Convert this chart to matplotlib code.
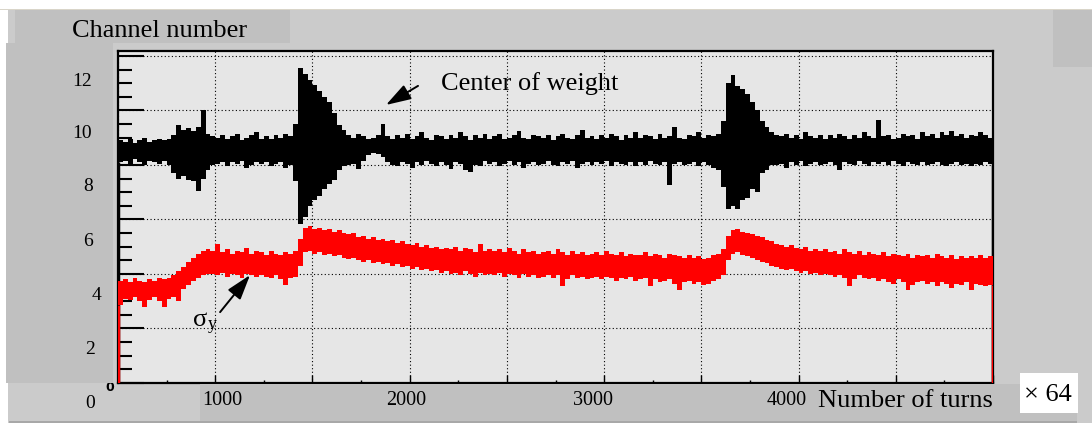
import numpy as np
import matplotlib
matplotlib.use('Agg')
import matplotlib.pyplot as plt
from matplotlib.patches import Rectangle
from matplotlib.ticker import MultipleLocator

plt.rcParams['font.family'] = ['Liberation Serif', 'DejaVu Serif']

# Histogram binning: 180 bins of 25 (units of 64 turns)
bin_width = 25
n_bins = 180
edges = np.arange(n_bins + 1) * bin_width

# Center of weight, max / min per bin (channel number)
cw_hi = [
    8.9, 8.85, 8.95, 8.8, 8.9, 9.0, 8.85, 8.9, 8.95, 8.9,
    8.95, 9.1, 9.45, 9.3, 9.35, 9.25, 9.4, 10.0, 9.15, 9.05,
    9.0, 9.1, 8.95, 9.05, 9.15, 8.9, 9.0, 9.1, 9.2, 8.95,
    9.05, 8.95, 9.1, 9.0, 9.15, 9.05, 9.5, 11.55, 11.35, 11.1,
    10.95, 10.7, 10.5, 10.3, 9.9, 9.45, 9.3, 9.1, 9.0, 9.15,
    9.05, 8.95, 9.0, 9.1, 9.5, 9.05, 8.95, 9.1, 9.0, 9.15,
    8.95, 9.05, 9.2, 9.0, 8.9, 9.1, 9.05, 8.95, 9.1, 9.0,
    9.2, 9.05, 8.9, 9.1, 9.0, 9.15, 8.95, 9.05, 9.15, 8.95,
    9.0, 9.1, 9.25, 9.0, 8.95, 9.1, 9.05, 9.0, 9.1, 8.9,
    9.05, 9.15, 9.0, 8.95, 9.1, 9.3, 9.0, 9.05, 8.95, 9.1,
    9.0, 9.15, 9.05, 8.9, 9.1, 9.0, 9.2, 9.0, 9.1, 9.05,
    8.95, 9.15, 9.0, 9.05, 9.4, 9.0, 8.95, 9.1, 9.05, 9.2,
    9.0, 9.1, 9.05, 9.15, 9.6, 11.0, 11.3, 10.9, 10.8, 10.6,
    10.3, 10.0, 9.6, 9.4, 9.2, 9.1, 9.05, 9.15, 9.0, 9.1,
    8.95, 9.2, 9.05, 9.0, 9.1, 8.95, 9.1, 9.0, 9.15, 9.05,
    8.95, 9.1, 9.0, 9.2, 9.05, 9.0, 9.65, 9.05, 9.1, 8.95,
    9.0, 9.15, 9.05, 9.1, 8.95, 9.2, 9.05, 9.15, 9.0, 9.2,
    9.1, 9.25, 9.05, 9.15, 9.0, 9.1, 9.05, 9.2, 9.1, 9.0,
]
cw_lo = [
    8.1, 8.15, 8.05, 8.2, 8.1, 8.0, 8.15, 8.1, 8.05, 8.15,
    8.0, 7.7, 7.5, 7.6, 7.45, 7.4, 7.05, 7.5, 7.8, 8.0,
    8.05, 8.1, 7.95, 8.1, 8.05, 8.15, 7.9, 8.0, 8.1, 8.05,
    8.1, 7.95, 8.05, 8.1, 7.9, 8.0, 7.4, 5.85, 6.1, 6.5,
    6.7, 6.85, 7.1, 7.3, 7.45, 7.8, 7.95, 8.0, 8.05, 7.85,
    8.15, 8.35, 8.45, 8.4, 8.3, 8.1, 8.0, 7.95, 8.1, 8.05,
    7.9, 8.1, 8.0, 8.15, 8.05, 7.95, 8.1, 8.0, 7.85, 8.1,
    8.05, 7.8, 7.75, 8.0, 7.95, 8.15, 8.05, 8.1, 7.95, 8.05,
    8.15, 8.0, 8.1, 7.9, 8.05, 8.1, 8.0, 8.05, 8.15, 8.0,
    7.95, 8.1, 8.05, 8.15, 7.9, 8.05, 8.1, 8.0, 8.1, 8.05,
    8.15, 7.95, 8.1, 8.05, 8.0, 8.1, 7.95, 8.1, 8.0, 8.15,
    8.05, 8.0, 8.1, 7.25, 8.05, 8.1, 8.0, 8.05, 8.1, 7.95,
    8.1, 8.0, 7.9, 7.8, 7.2, 6.4, 6.5, 6.4, 6.7, 6.8,
    7.1, 7.0, 7.7, 7.8, 8.0, 8.0, 8.05, 7.9, 8.1, 8.0,
    8.15, 7.95, 8.05, 8.1, 8.0, 8.05, 8.1, 8.0, 7.8, 8.1,
    8.05, 8.0, 8.15, 8.05, 7.95, 8.1, 8.05, 8.1, 8.0, 8.15,
    8.05, 7.95, 8.1, 8.05, 8.0, 8.1, 8.0, 8.05, 8.1, 8.0,
    7.95, 8.05, 8.1, 8.0, 8.05, 7.95, 8.05, 8.0, 8.1, 8.05,
]

# sigma_y, max / min per bin
sig_hi = [
    3.75, 3.8, 3.7, 3.85, 3.75, 3.7, 3.8, 3.75, 3.85, 3.8,
    3.85, 3.95, 4.1, 4.25, 4.45, 4.6, 4.75, 4.85, 4.9, 4.85,
    5.1, 4.8, 4.9, 4.75, 4.85, 4.8, 4.95, 4.75, 4.85, 4.8,
    4.7, 4.85, 4.75, 4.7, 4.8, 4.75, 4.85, 5.3, 5.7, 5.75,
    5.65, 5.7, 5.6, 5.65, 5.55, 5.6, 5.5, 5.45, 5.5, 5.35,
    5.4, 5.3, 5.35, 5.25, 5.3, 5.2, 5.25, 5.15, 5.2, 5.1,
    5.05, 5.15, 5.0, 5.05, 4.95, 5.0, 4.9, 4.95, 4.9, 5.0,
    4.85, 4.95, 4.9, 4.8, 5.1, 4.85, 4.9, 4.85, 4.9, 4.8,
    4.95, 4.85, 4.75, 4.9, 4.8, 4.85, 4.75, 4.8, 4.85, 4.75,
    4.9, 4.8, 4.7, 4.85, 4.75, 4.8, 4.7, 4.75, 4.8, 4.7,
    4.85, 4.75, 4.7, 4.8, 4.65, 4.75, 4.7, 4.7, 4.8, 4.65,
    4.75, 4.7, 4.6, 4.75, 4.7, 4.65, 4.6, 4.7, 4.6, 4.65,
    4.55, 4.6, 4.7, 4.75, 4.9, 5.4, 5.6, 5.65, 5.55, 5.5,
    5.45, 5.4, 5.35, 5.25, 5.2, 5.1, 5.05, 5.0, 5.05, 4.95,
    4.9, 5.0, 4.85, 4.9, 4.85, 4.9, 4.8, 4.85, 4.75, 4.9,
    4.8, 4.75, 4.85, 4.7, 4.8, 4.75, 4.7, 4.8, 4.65, 4.75,
    4.7, 4.65, 4.75, 4.6, 4.7, 4.65, 4.7, 4.6, 4.75, 4.65,
    4.6, 4.7, 4.55, 4.65, 4.6, 4.65, 4.6, 4.7, 4.6, 4.65,
]
sig_lo = [
    2.85, 3.1, 3.05, 3.15, 3.0, 2.8, 3.05, 3.15, 3.0, 2.8,
    3.1, 3.15, 3.0, 3.45, 3.6, 3.75, 3.85, 3.95, 4.0, 4.0,
    3.95, 4.05, 3.9, 4.0, 3.95, 3.85, 4.0, 3.95, 3.9, 3.95,
    3.9, 3.85, 3.95, 3.8, 3.6, 3.85, 3.9, 4.3, 4.8, 4.85,
    4.75, 4.8, 4.7, 4.75, 4.65, 4.7, 4.6, 4.55, 4.6, 4.5,
    4.45, 4.5, 4.4, 4.45, 4.35, 4.4, 4.3, 4.35, 4.25, 4.3,
    4.2, 4.25, 4.15, 4.2, 4.1, 4.15, 4.05, 4.1, 4.0, 4.05,
    3.95, 4.1, 4.0, 3.9, 4.05, 3.95, 4.0, 3.95, 4.05, 3.9,
    4.0, 3.95, 3.85, 4.0, 3.9, 3.95, 3.85, 3.9, 3.95, 3.85,
    3.95, 3.55, 3.8, 3.95, 3.85, 3.9, 3.8, 3.85, 3.9, 3.8,
    3.9, 3.85, 3.75, 3.85, 3.8, 3.9, 3.75, 3.8, 3.85, 3.55,
    3.8, 3.7, 3.75, 3.8, 3.65, 3.4, 3.7, 3.75, 3.65, 3.7,
    3.6, 3.65, 3.75, 3.8, 3.95, 4.5, 4.75, 4.8, 4.7, 4.65,
    4.6, 4.5, 4.45, 4.4, 4.3, 4.25, 4.2, 4.15, 4.2, 4.1,
    4.05, 4.1, 4.0, 4.05, 3.95, 4.0, 3.95, 3.9, 3.95, 3.85,
    3.55, 3.8, 3.95, 3.85, 3.8, 3.85, 3.75, 3.8, 3.7, 3.65,
    3.8, 3.7, 3.4, 3.6, 3.7, 3.75, 3.65, 3.7, 3.55, 3.7,
    3.65, 3.5, 3.65, 3.6, 3.7, 3.4, 3.65, 3.6, 3.55, 3.6,
]

x_labels = ['0', '1000', '2000', '3000', '4000']
y_labels = ['0', '2', '4', '6', '8', '10', '12']

# label placement on the page (pixels from top-left)
x_label_px = [(90, 408), (222, 405), (406, 405), (593, 405), (787, 405)]
y_label_px = [(90, 408), (90, 353.5), (97, 300), (88, 246.5), (88, 191.5), (82, 137.5), (82, 86.5)]

W, H = 1092, 424
fig = plt.figure(figsize=(W / 100, H / 100), dpi=100)
fig.patch.set_facecolor('white')

ax = fig.add_axes([118 / W, 1 - 383 / H, (993 - 118) / W, (383 - 51) / H])
ax.set_facecolor('#e6e6e6')
ax.set_xlim(0, n_bins * bin_width)
ax.set_ylim(0, 12.18)

ax.stairs(cw_hi, edges, baseline=cw_lo, fill=True, color='black', lw=0, zorder=3)
ax.vlines([edges[0]], 0, cw_lo[0], color='black', lw=2.5, zorder=3)
ax.vlines([edges[-1]], 0, cw_lo[-1], color='black', lw=2.5, zorder=3)
ax.stairs(sig_hi, edges, baseline=sig_lo, fill=True, color='red', lw=0, zorder=4)
ax.vlines([edges[0]], 0, sig_lo[0], color='red', lw=2.5, zorder=4)
ax.vlines([edges[-1]], 0, sig_lo[-1], color='red', lw=2.5, zorder=4)

ax.xaxis.set_major_locator(MultipleLocator(500))
ax.xaxis.set_minor_locator(MultipleLocator(250))
ax.yaxis.set_major_locator(MultipleLocator(2))
ax.yaxis.set_minor_locator(MultipleLocator(0.5))
ax.tick_params(axis='y', which='major', direction='in', length=18.5, width=1.5,
               left=True, right=False, labelleft=False)
ax.tick_params(axis='y', which='minor', direction='in', length=10, width=1.5,
               left=True, right=False)
ax.tick_params(axis='x', which='major', direction='in', length=5.5, width=1,
               bottom=True, top=False, labelbottom=False)
ax.tick_params(axis='x', which='minor', direction='in', length=2.2, width=1,
               bottom=True, top=False)
ax.set_axisbelow(True)
ax.grid(True, which='major', color='black', linestyle=(0, (1, 2.2)), linewidth=0.8)
for side in ax.spines.values():
    side.set_linewidth(1.6)
    side.set_color('black')

# arrows pointing at the two traces
arrow = dict(arrowstyle='-|>,head_length=1.1,head_width=0.35', mutation_scale=14,
             lw=1.4, color='black', shrinkA=0, shrinkB=0)
ax.annotate('', xy=(1378, 10.2), xytext=(1543, 10.9), arrowprops=arrow, zorder=6)
ax.annotate('', xy=(679, 3.96), xytext=(525, 2.6), arrowprops=arrow, zorder=6)


def px(x, y):
    return x / W, 1 - y / H


def box(x0, y0, x1, y1, color, z):
    fig.add_artist(Rectangle(px(x0, y1), (x1 - x0) / W, (y1 - y0) / H,
                             transform=fig.transFigure, facecolor=color,
                             edgecolor='none', zorder=z))


page = '#cbcbcb'
dark = '#c0c0c0'
box(8, 10, 1092, 423, page, -2)
box(0, 8.5, 1092, 10, '#d9d5c9', -1)
box(15, 10, 290, 43, dark, -1)
box(1053, 10, 1092, 67, dark, -1)
box(6, 43, 113, 383, dark, 3)
box(200, 383.5, 1077, 421, dark, 3)
box(9, 421, 1077, 423, '#a8a8a8', 3)
box(1020, 373, 1078, 413, 'white', 4)

# leftover zero of the native axis, mostly hidden
fig.text(*px(109.5, 391), '0', fontsize=9, fontweight='bold', family='DejaVu Sans',
         ha='center', va='baseline', zorder=2)

fig.text(*px(72, 37), 'Channel number', fontsize=19, ha='left', va='baseline', zorder=5)
for lab, (x, y) in zip(y_labels, y_label_px):
    fig.text(*px(x, y), lab, fontsize=14, ha='center', va='baseline', zorder=5)
for lab, (x, y) in zip(x_labels[1:], x_label_px[1:]):
    fig.text(*px(x, y), lab, fontsize=14.5, ha='center', va='baseline', zorder=5)
fig.text(*px(818, 407), 'Number of turns', fontsize=19, ha='left', va='baseline', zorder=5)
fig.text(*px(1048, 401), '× 64', fontsize=19, ha='center', va='baseline', zorder=5)
fig.text(*px(441, 90), 'Center of weight', fontsize=19, ha='left', va='baseline', zorder=5)
fig.text(*px(193, 326), 'σ', fontsize=19, ha='left', va='baseline', zorder=5)
fig.text(*px(208, 329), 'y', fontsize=13, ha='left', va='baseline', zorder=5)

fig.savefig('out.png', dpi=100)
